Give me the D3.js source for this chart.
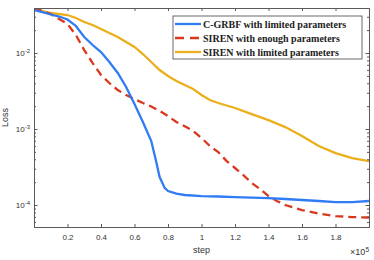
<!DOCTYPE html>
<html>
<head>
<meta charset="utf-8">
<script src="https://cdn.jsdelivr.net/npm/d3@7"></script>
<style>
  body { margin: 0; background: #fff; }
  svg { display: block; }
  .axis path, .axis line { stroke: #5a5a5a; }
  .axis text { fill: #333; font-family: "Liberation Sans", Arial, sans-serif; font-size: 8px; }
</style>
</head>
<body>
<svg id="chart" width="374" height="260"></svg>
<script>
// steps are in units of 1e5
const seriesNames = ["C-GRBF with limited parameters", "SIREN with enough parameters", "SIREN with limited parameters"];

const grbfSteps = [0,0.05,0.1,0.15,0.2,0.25,0.3,0.35,0.4,0.45,0.5,0.55,0.6,0.65,0.7,0.73,0.75,0.78,0.8,0.85,0.9,1.0,1.1,1.2,1.3,1.4,1.5,1.6,1.7,1.8,1.9,2.0];
const grbfLoss = [0.0368,0.0346,0.0321,0.0302,0.0276,0.0227,0.01625,0.01274,0.0103,0.00762,0.00546,0.00357,0.00213,0.00124,0.000695,0.000368,0.000233,0.000168,0.000153,0.0001416,0.0001355,0.0001313,0.0001294,0.0001274,0.0001255,0.0001236,0.00012,0.0001164,0.000113,0.0001094,0.0001094,0.000113];

const sirenBigSteps = [0,0.1,0.2,0.25,0.3,0.35,0.4,0.45,0.5,0.55,0.6,0.65,0.7,0.75,0.8,0.85,0.9,0.95,1.0,1.05,1.1,1.15,1.2,1.25,1.3,1.35,1.4,1.45,1.5,1.6,1.7,1.8,1.9,2.0];
const sirenBigLoss = [0.0391,0.0326,0.0241,0.01726,0.01094,0.00738,0.00514,0.00403,0.00326,0.0028,0.00248,0.0022,0.00198,0.00173,0.00148,0.00124,0.00109,0.000941,0.000762,0.000597,0.000498,0.000379,0.000307,0.000248,0.000195,0.000162,0.000131,0.000113,0.0001,0.0000859,0.0000773,0.0000716,0.0000695,0.0000685];

const sirenSmallSteps = [0,0.1,0.2,0.25,0.3,0.35,0.4,0.45,0.5,0.55,0.6,0.65,0.7,0.75,0.8,0.85,0.9,0.95,1.0,1.05,1.1,1.2,1.3,1.4,1.5,1.6,1.7,1.8,1.9,2.0];
const sirenSmallLoss = [0.0379,0.0336,0.0316,0.0289,0.0256,0.0234,0.0207,0.01833,0.01625,0.01396,0.012,0.0097,0.00762,0.00597,0.00498,0.00428,0.00379,0.00336,0.0028,0.00241,0.0022,0.00189,0.00157,0.00131,0.00106,0.000809,0.000597,0.000483,0.000415,0.000379];

const xTicks = [0.2,0.4,0.6,0.8,1.0,1.2,1.4,1.6,1.8];
const yMajor = [1e-4,1e-3,1e-2];
const yExp = ["-4","-3","-2"];

let margin = {top: 8, right: 5, bottom: 33, left: 34};
let width = 374 - margin.left - margin.right;
let height = 260 - margin.top - margin.bottom;

let svg = d3.select("#chart")
    .append("g")
    .attr("transform", "translate(" + margin.left + "," + margin.top + ")");

let xScale = d3.scaleLinear().domain([0, 2]).range([0, width]);
let yScale = d3.scaleLog().domain([5.14e-5, 0.0391]).range([height, 0]);

// minor log ticks
let yMinor = [];
[1e-5, 1e-4, 1e-3, 1e-2].forEach(function(d){
    for (let k = 2; k <= 9; k++){
        let v = d * k;
        if (v >= yScale.domain()[0] && v <= yScale.domain()[1]) yMinor.push(v);
    }
});

svg.append("rect").attr("width", width).attr("height", height).attr("fill", "#fff");

svg.append("clipPath").attr("id", "clip")
    .append("rect").attr("width", width).attr("height", height);

let line = d3.line()
    .x(function(d){ return xScale(d[0]); })
    .y(function(d){ return yScale(d[1]); });

let series = [
    {steps: grbfSteps, loss: grbfLoss, color: "#2f7cf4", dash: null},
    {steps: sirenBigSteps, loss: sirenBigLoss, color: "#d9381c", dash: "8,5"},
    {steps: sirenSmallSteps, loss: sirenSmallLoss, color: "#ebaf1c", dash: null}
];

let plot = svg.append("g").attr("clip-path", "url(#clip)");
// draw order: yellow, red, blue on top
[2, 1, 0].forEach(function(i){
    let s = series[i];
    plot.append("path")
        .datum(d3.zip(s.steps, s.loss))
        .attr("fill", "none")
        .attr("stroke", s.color)
        .attr("stroke-width", 2.3)
        .attr("stroke-dasharray", s.dash)
        .attr("d", line);
});

// axes: bottom
svg.append("g").attr("class", "axis")
    .attr("transform", "translate(0," + height + ")")
    .call(d3.axisBottom(xScale).tickValues(xTicks).tickSize(-3).tickPadding(7)
        .tickFormat(function(d){ return d3.format(".1f")(d).replace(".0", ""); }));

svg.append("g").attr("class", "axis")
    .call(d3.axisTop(xScale).tickValues(xTicks).tickSize(-3).tickFormat(""));

// left
let yAxis = svg.append("g").attr("class", "axis")
    .call(d3.axisLeft(yScale).tickValues(yMajor).tickSize(-3.5).tickPadding(4).tickFormat(""));
yAxis.selectAll(".tick text").each(function(d, i){
    let t = d3.select(this);
    t.text("10");
    t.append("tspan").attr("dy", "-0.5em").attr("font-size", "6px").text(yExp[i]);
});
svg.append("g").attr("class", "axis")
    .call(d3.axisLeft(yScale).tickValues(yMinor).tickSize(-2).tickFormat(""))
    .select(".domain").remove();

// right
svg.append("g").attr("class", "axis")
    .attr("transform", "translate(" + width + ",0)")
    .call(d3.axisRight(yScale).tickValues(yMajor).tickSize(-3.5).tickFormat(""));
svg.append("g").attr("class", "axis")
    .attr("transform", "translate(" + width + ",0)")
    .call(d3.axisRight(yScale).tickValues(yMinor).tickSize(-2).tickFormat(""))
    .select(".domain").remove();

svg.selectAll(".axis .domain").attr("stroke-width", 1);

// axis labels
svg.append("text")
    .attr("x", width / 2)
    .attr("y", height + 26)
    .attr("text-anchor", "middle")
    .attr("font-family", "Liberation Sans, Arial, sans-serif")
    .attr("font-size", "9px")
    .attr("fill", "#333")
    .text("step");

let mult = svg.append("text")
    .attr("x", width)
    .attr("y", height + 28)
    .attr("text-anchor", "end")
    .attr("font-family", "Liberation Sans, Arial, sans-serif")
    .attr("font-size", "9px")
    .attr("fill", "#333")
    .text("\u00d710");
mult.append("tspan").attr("dy", "-0.5em").attr("font-size", "6.5px").text("5");

svg.append("text")
    .attr("transform", "translate(" + (-26) + "," + (height / 2) + ") rotate(-90)")
    .attr("text-anchor", "middle")
    .attr("font-family", "Liberation Sans, Arial, sans-serif")
    .attr("font-size", "9px")
    .attr("fill", "#333")
    .text("Loss");

// legend
let legend = svg.append("g").attr("transform", "translate(139,8)");
legend.append("rect")
    .attr("width", 189).attr("height", 43)
    .attr("fill", "#fff").attr("stroke", "#444").attr("stroke-width", 0.8);
series.forEach(function(s, i){
    let yy = 8 + i * 14;
    legend.append("line")
        .attr("x1", 2).attr("x2", 28).attr("y1", yy).attr("y2", yy)
        .attr("stroke", s.color).attr("stroke-width", 2.3)
        .attr("stroke-dasharray", s.dash ? "9,6" : null);
    legend.append("text")
        .attr("x", 30).attr("y", yy + 3.5)
        .attr("font-family", "Liberation Serif, Times New Roman, serif")
        .attr("font-weight", "bold")
        .attr("font-size", "10px")
        .attr("fill", "#222")
        .text(seriesNames[i]);
});
</script>
</body>
</html>
